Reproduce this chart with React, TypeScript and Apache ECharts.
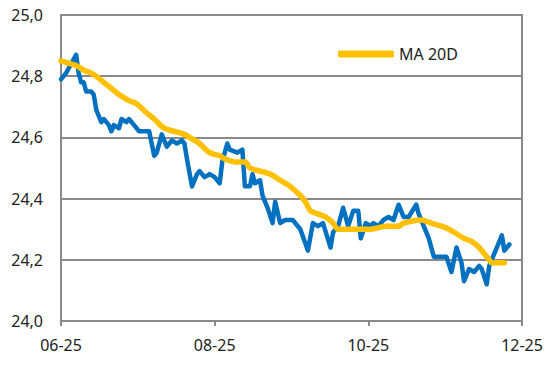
import React, { useEffect, useRef } from "react";
import * as echarts from "echarts";

// Daily price (blue line)
const priceDates = [
  "2025-06-01","2025-06-03","2025-06-05","2025-06-07","2025-06-08","2025-06-09","2025-06-10","2025-06-11","2025-06-13","2025-06-14",
  "2025-06-15","2025-06-17","2025-06-18","2025-06-20","2025-06-21","2025-06-22","2025-06-24","2025-06-25","2025-06-27","2025-06-28",
  "2025-06-30","2025-07-02","2025-07-04","2025-07-06","2025-07-08","2025-07-09","2025-07-11","2025-07-13","2025-07-15","2025-07-17",
  "2025-07-19","2025-07-20","2025-07-21","2025-07-23","2025-07-25","2025-07-26","2025-07-28","2025-07-30","2025-08-01","2025-08-03",
  "2025-08-04","2025-08-06","2025-08-07","2025-08-10","2025-08-12","2025-08-13","2025-08-15","2025-08-16","2025-08-17","2025-08-19",
  "2025-08-20","2025-08-22","2025-08-24","2025-08-25","2025-08-27","2025-08-29","2025-09-01","2025-09-04","2025-09-07","2025-09-09",
  "2025-09-11","2025-09-13","2025-09-16","2025-09-17","2025-09-19","2025-09-21","2025-09-23","2025-09-25","2025-09-27","2025-09-28",
  "2025-09-30","2025-10-02","2025-10-03","2025-10-05","2025-10-07","2025-10-09","2025-10-11","2025-10-13","2025-10-15","2025-10-17",
  "2025-10-20","2025-10-21","2025-10-23","2025-10-25","2025-10-27","2025-10-30","2025-11-01","2025-11-03","2025-11-05","2025-11-07",
  "2025-11-08","2025-11-10","2025-11-12","2025-11-14","2025-11-15","2025-11-17","2025-11-18","2025-11-20","2025-11-23","2025-11-24",
  "2025-11-26",
];
const priceValues = [
  24.79, 24.81, 24.84, 24.87, 24.81, 24.78, 24.78, 24.75, 24.75, 24.74,
  24.69, 24.65, 24.66, 24.64, 24.62, 24.64, 24.63, 24.66, 24.65, 24.66,
  24.64, 24.62, 24.62, 24.62, 24.54, 24.55, 24.61, 24.57, 24.59, 24.58,
  24.59, 24.58, 24.53, 24.44, 24.48, 24.49, 24.47, 24.48, 24.47, 24.45,
  24.52, 24.58, 24.56, 24.55, 24.56, 24.44, 24.44, 24.48, 24.45, 24.46,
  24.41, 24.37, 24.32, 24.39, 24.32, 24.33, 24.33, 24.30, 24.23, 24.32,
  24.31, 24.32, 24.24, 24.29, 24.31, 24.37, 24.31, 24.36, 24.36, 24.27,
  24.32, 24.31, 24.32, 24.31, 24.33, 24.34, 24.33, 24.38, 24.34, 24.34,
  24.38, 24.35, 24.31, 24.27, 24.21, 24.21, 24.21, 24.16, 24.24, 24.19,
  24.13, 24.17, 24.16, 24.18, 24.17, 24.12, 24.18, 24.22, 24.28, 24.23,
  24.25,
];

// 20-day moving average (yellow line)
const maDates = [
  "2025-06-01","2025-06-05","2025-06-07","2025-06-10","2025-06-13","2025-06-15","2025-06-18","2025-06-21","2025-06-24","2025-06-28",
  "2025-07-01","2025-07-05","2025-07-08","2025-07-12","2025-07-16","2025-07-20","2025-07-22","2025-07-26","2025-07-30","2025-08-03",
  "2025-08-05","2025-08-09","2025-08-13","2025-08-15","2025-08-19","2025-08-23","2025-08-27","2025-08-31","2025-09-04","2025-09-06",
  "2025-09-08","2025-09-11","2025-09-14","2025-09-17","2025-09-19","2025-09-24","2025-10-02","2025-10-08","2025-10-13","2025-10-15",
  "2025-10-22","2025-10-26","2025-10-30","2025-11-02","2025-11-04","2025-11-08","2025-11-11","2025-11-14","2025-11-16","2025-11-18",
  "2025-11-19","2025-11-24",
];
const maValues = [
  24.85, 24.84, 24.835, 24.82, 24.81, 24.80, 24.78, 24.76, 24.74, 24.72,
  24.71, 24.68, 24.66, 24.63, 24.62, 24.61, 24.60, 24.58, 24.55, 24.54,
  24.53, 24.52, 24.52, 24.50, 24.49, 24.48, 24.46, 24.44, 24.41, 24.39,
  24.36, 24.35, 24.34, 24.32, 24.30, 24.30, 24.30, 24.31, 24.31, 24.32,
  24.33, 24.32, 24.31, 24.30, 24.29, 24.27, 24.26, 24.24, 24.22, 24.20,
  24.19, 24.19,
];

const xTickLabels = ["06-25", "08-25", "10-25", "12-25"];
const xStartDate = "2025-06-01";
const xEndDate = "2025-12-01";
const xTickStepDays = 61;
const maName = "MA 20D";

const DAY = 86400000;
const dayOffset = (d: string) =>
  Math.round((Date.parse(d + "T00:00:00Z") - Date.parse(xStartDate + "T00:00:00Z")) / DAY);

export default function App() {
  const ref = useRef<HTMLDivElement>(null);
  useEffect(() => {
    if (!ref.current) return;
    const chart = echarts.init(ref.current, undefined, { renderer: "svg" });
    const font = "'Noto Sans', 'Open Sans', sans-serif";
    const gridColor = "#8a8a8a";
    chart.setOption({
      animation: false,
      backgroundColor: "#ffffff",
      grid: {
        left: 61,
        right: 29,
        top: 15,
        bottom: 59,
        show: true,
        borderColor: gridColor,
        borderWidth: 2,
      },
      legend: {
        show: true,
        data: [maName],
        left: 333,
        top: 41,
        itemWidth: 56,
        itemHeight: 7,
        icon: "roundRect",
        textStyle: { fontFamily: font, fontSize: 16, color: "#222" },
      },
      xAxis: {
        type: "value",
        min: 0,
        max: dayOffset(xEndDate),
        interval: xTickStepDays,
        axisLine: { show: true, lineStyle: { color: gridColor, width: 2 } },
        axisTick: { show: true, length: 5, lineStyle: { color: gridColor, width: 2 } },
        splitLine: { show: false },
        axisLabel: {
          margin: 16,
          fontFamily: font,
          fontSize: 16,
          color: "#222",
          formatter: (v: number) => xTickLabels[Math.round(v / xTickStepDays)] ?? "",
        },
      },
      yAxis: {
        type: "value",
        min: 24,
        max: 25,
        interval: 0.2,
        axisLine: { show: true, lineStyle: { color: gridColor, width: 2 } },
        axisTick: { show: false },
        splitLine: { show: true, lineStyle: { color: gridColor, width: 2 } },
        axisLabel: {
          margin: 18,
          fontFamily: font,
          fontSize: 16,
          color: "#222",
          formatter: (v: number) => v.toFixed(1).replace(".", ","),
        },
      },
      series: [
        {
          name: "Kurs",
          type: "line",
          data: priceDates.map((d, i) => [dayOffset(d), priceValues[i]]),
          showSymbol: false,
          symbol: "none",
          lineStyle: { color: "#0070C0", width: 4.5, join: "round", cap: "round" },
          itemStyle: { color: "#0070C0" },
          z: 2,
        },
        {
          name: maName,
          type: "line",
          data: maDates.map((d, i) => [dayOffset(d), maValues[i]]),
          showSymbol: false,
          symbol: "none",
          smooth: 0.3,
          lineStyle: { color: "#FFC000", width: 5.5, join: "round", cap: "round" },
          itemStyle: { color: "#FFC000" },
          z: 3,
        },
      ],
    });
    return () => chart.dispose();
  }, []);
  return <div ref={ref} style={{ width: 551, height: 380, position: "absolute", left: 0, top: 0 }} />;
}
